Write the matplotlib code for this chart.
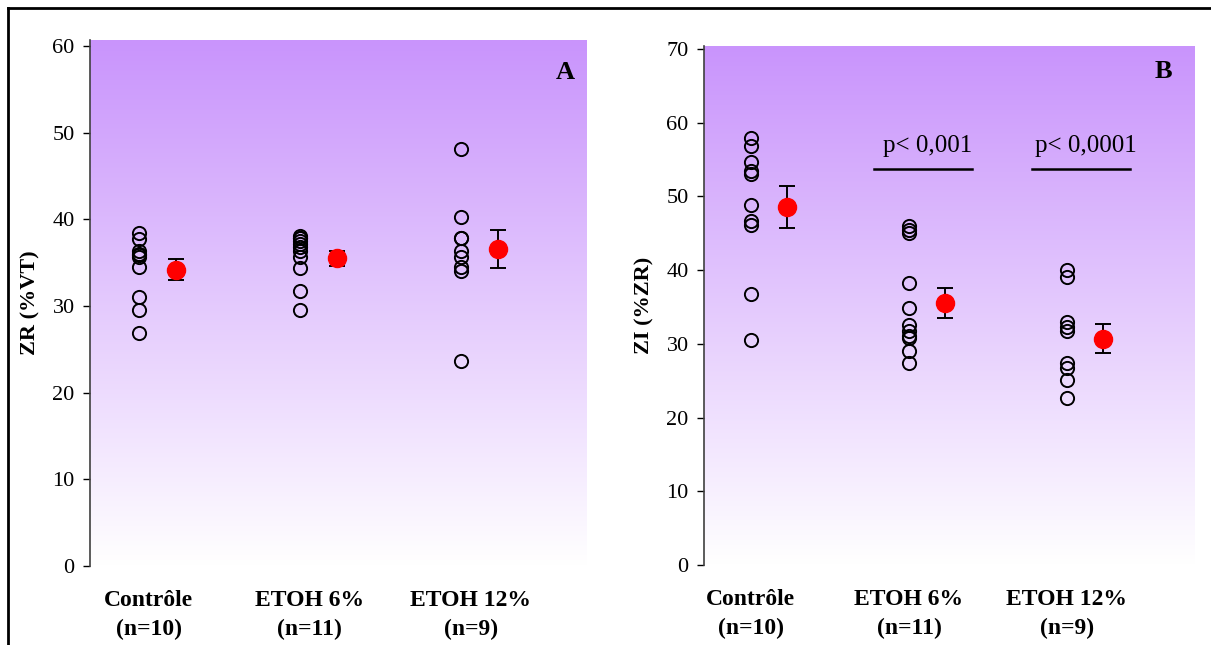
import numpy as np
import matplotlib
matplotlib.use("Agg")
import matplotlib.pyplot as plt
from matplotlib.lines import Line2D
from matplotlib.colors import LinearSegmentedColormap

plt.rcParams['font.family'] = ['Liberation Serif', 'DejaVu Serif']

groups = ["Contrôle\n(n=10)", "ETOH 6%\n(n=11)", "ETOH 12%\n(n=9)"]

# panel A : ZR (%VT)
zr_ctrl = [38.4, 37.7, 36.3, 36.0, 35.9, 35.7, 34.5, 31.1, 29.5, 26.9]
zr_e6 = [38.1, 37.9, 37.8, 37.5, 37.2, 36.8, 36.4, 35.7, 34.4, 31.7, 29.5]
zr_e12 = [48.1, 40.3, 37.9, 37.8, 36.3, 35.7, 34.5, 34.1, 23.7]
zr_mean = [34.2, 35.5, 36.55]
zr_sem = [1.2, 0.85, 2.2]

# panel B : ZI (%ZR)
zi_ctrl = [57.9, 56.8, 54.6, 53.5, 53.1, 48.9, 46.6, 46.1, 36.8, 30.5]
zi_e6 = [46.0, 45.5, 45.0, 38.2, 34.8, 32.6, 31.7, 31.1, 30.8, 29.0, 27.4]
zi_e12 = [40.0, 39.1, 33.0, 32.3, 31.7, 27.4, 26.7, 25.1, 22.7]
zi_mean = [48.5, 35.5, 30.7]
zi_sem = [2.85, 2.05, 2.0]

pvals = ["p< 0,001", "p< 0,0001"]
pval_groups = [1, 2]
pval_level = 53.7

purple = LinearSegmentedColormap.from_list("lav", ["#ffffff", "#c994fc"])


def draw_panel(ax, values, means, sems, ylim, yticks, ylabel, letter, letter_pos,
               xlim, label_shift):
    ax.set_xlim(*xlim)
    ax.set_ylim(*ylim)
    grad = np.linspace(0, 1, 256).reshape(-1, 1)
    ax.imshow(grad, cmap=purple, aspect='auto', origin='lower',
              extent=[xlim[0], xlim[1], ylim[0], ylim[1]], zorder=0)
    for i, vals in enumerate(values):
        ax.plot([i] * len(vals), vals, 'o', mfc='none', mec='black', mew=1.4,
                ms=9.5, zorder=3)
        ax.errorbar(i + 0.23, means[i], yerr=sems[i], fmt='none', ecolor='black',
                    elinewidth=1.4, capsize=5.5, capthick=1.4, zorder=3)
        ax.plot(i + 0.23, means[i], 'o', color='red', ms=13, zorder=4)
    for s in ['top', 'right', 'bottom']:
        ax.spines[s].set_visible(False)
    ax.spines['left'].set_color('#404040')
    ax.spines['left'].set_linewidth(1.2)
    ax.set_yticks(yticks)
    ax.tick_params(axis='y', direction='out', length=5, width=1, pad=6, labelsize=16)
    ax.set_xticks(np.arange(len(values)) + label_shift)
    ax.set_xticklabels(groups, fontsize=17, fontweight='bold', linespacing=1.5)
    ax.tick_params(axis='x', length=0, pad=17)
    ax.set_ylabel(ylabel, fontsize=16, fontweight='bold')
    ax.yaxis.set_label_coords(-0.10, 0.5)
    ax.text(letter_pos[0], letter_pos[1], letter, transform=ax.transAxes,
            ha='center', va='center', fontsize=19, fontweight='bold')


fig = plt.figure(figsize=(12.11, 6.45), dpi=100)

axA = fig.add_axes([90 / 1211, 1 - 566 / 645, 497 / 1211, 526 / 645])
draw_panel(axA, [zr_ctrl, zr_e6, zr_e12], zr_mean, zr_sem, (0, 60.7),
           range(0, 61, 10), "ZR (%VT)", "A", (0.956, 0.939), (-0.304, 2.78), 0.06)

axB = fig.add_axes([704 / 1211, 1 - 565 / 645, 491 / 1211, 519 / 645])
draw_panel(axB, [zi_ctrl, zi_e6, zi_e12], zi_mean, zi_sem, (0, 70.4),
           range(0, 71, 10), "ZI (%ZR)", "B", (0.935, 0.95), (-0.297, 2.81), 0.0)

for txt, g in zip(pvals, pval_groups):
    axB.plot([g - 0.22, g + 0.40], [pval_level, pval_level], color='black', lw=1.8, zorder=3)
    axB.text(g + 0.12, pval_level + 2.3, txt, ha='center', va='baseline', fontsize=18)

# frame around the figure
fig.add_artist(Line2D([8 / 1211, 1], [1 - 8 / 645, 1 - 8 / 645], color='black', lw=2))
fig.add_artist(Line2D([8 / 1211, 8 / 1211], [0, 1 - 8 / 645], color='black', lw=2))

fig.savefig("out.png", dpi=100)
